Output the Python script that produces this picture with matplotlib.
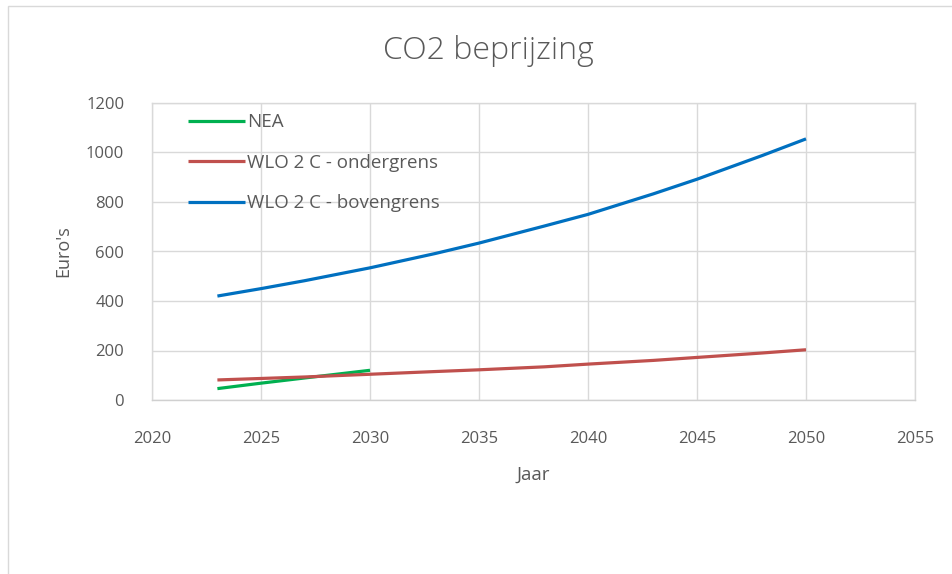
import matplotlib
matplotlib.use("Agg")
import matplotlib.pyplot as plt
from matplotlib.patches import Rectangle

# Data
nea_years = [2023, 2025, 2027, 2030]
nea_values = [46, 68, 89, 120]

onder_years = [2023, 2025, 2027, 2030, 2033, 2035, 2038, 2040, 2043, 2045, 2048, 2050]
onder_values = [81, 87, 93, 104, 115, 122, 134, 145, 160, 172, 190, 203]

boven_years = [2023, 2025, 2027, 2030, 2033, 2035, 2038, 2040, 2043, 2045, 2048, 2050]
boven_values = [420, 450, 482, 534, 592, 634, 703, 750, 833, 892, 988, 1055]

series_labels = ["NEA", "WLO 2 C - ondergrens", "WLO 2 C - bovengrens"]
x_ticks = [2020, 2025, 2030, 2035, 2040, 2045, 2050, 2055]
y_ticks = [0, 200, 400, 600, 800, 1000, 1200]
y_ticklabels = ["0", "200", "400", "600", "800", "1000", "1200"]

plt.rcParams['font.family'] = ['Open Sans', 'DejaVu Sans']
text_col = "#595959"
grid_col = "#d9d9d9"

fig = plt.figure(figsize=(9.52, 5.74), dpi=100)
W, H = 952, 574
# outer chart-area border
fig.patches.append(Rectangle((8 / W, -0.1), 1.2, 1 - 6 / H + 0.1, transform=fig.transFigure,
                             fill=False, edgecolor="#d9d9d9", linewidth=1.0))

ax = fig.add_axes([152 / W, 1 - 400 / H, (915 - 152) / W, (400 - 103) / H])
ax.plot(nea_years, nea_values, color="#00b050", lw=2.3, label=series_labels[0], solid_capstyle="butt")
ax.plot(onder_years, onder_values, color="#c0504d", lw=2.3, label=series_labels[1], solid_capstyle="butt")
ax.plot(boven_years, boven_values, color="#0070c0", lw=2.3, label=series_labels[2], solid_capstyle="butt")

ax.set_xlim(2020, 2055)
ax.set_ylim(0, 1200)
ax.set_xticks(x_ticks)
ax.set_xticklabels([str(t) for t in x_ticks])
ax.set_yticks(y_ticks)
ax.set_yticklabels(y_ticklabels)
ax.grid(True, color=grid_col, lw=1.0)
ax.set_axisbelow(True)
for s in ax.spines.values():
    s.set_color(grid_col)
    s.set_linewidth(1.0)
ax.spines['bottom'].set_color("#d0d0d0")
ax.tick_params(axis='both', length=0, colors=text_col, labelsize=12)
ax.tick_params(axis='x', pad=22)
ax.tick_params(axis='y', pad=20)

ax.set_xlabel("Jaar", color=text_col, fontsize=13.5, labelpad=14)
ax.set_ylabel("Euro's", color=text_col, fontsize=13, labelpad=10)

fig.text(0.513, 1 - 51 / H, "CO2 beprijzing", ha="center", va="center",
         color=text_col, fontsize=23, fontweight="light")

leg = ax.legend(loc="upper left", bbox_to_anchor=(0.033, 1.003), frameon=False,
                handlelength=3.0, handletextpad=0.15, labelspacing=1.2,
                fontsize=13.5, borderaxespad=0.2)
for t in leg.get_texts():
    t.set_color(text_col)

fig.savefig("out.png", dpi=100, facecolor="white")
